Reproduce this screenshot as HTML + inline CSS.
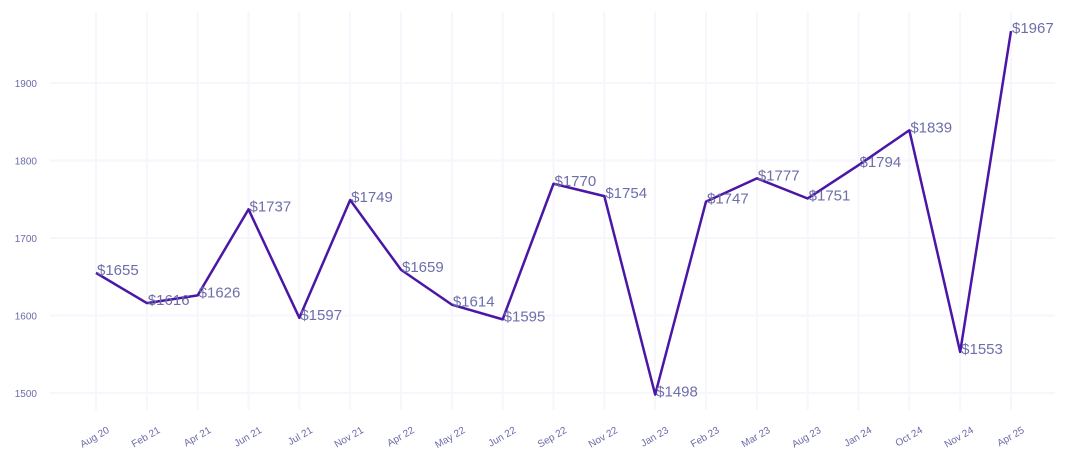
<!DOCTYPE html>
<html><head><meta charset="utf-8"><style>
html,body{margin:0;padding:0;background:#fff;}
svg{display:block;font-family:"Liberation Sans",Arial,sans-serif;}
</style></head><body>
<svg id="chart" width="1070" height="465" viewBox="0 0 1070 465">
<g id="grid"></g>
<g id="yaxis"></g>
<g id="xaxis"></g>
<g id="series"></g>
</svg>
<script>
const categories=["Aug 20","Feb 21","Apr 21","Jun 21","Jul 21","Nov 21","Apr 22","May 22","Jun 22","Sep 22","Nov 22","Jan 23","Feb 23","Mar 23","Aug 23","Jan 24","Oct 24","Nov 24","Apr 25"];
const values=[1655,1616,1626,1737,1597,1749,1659,1614,1595,1770,1754,1498,1747,1777,1751,1794,1839,1553,1967];
const yTicks=[1500,1600,1700,1800,1900];
const NS="http://www.w3.org/2000/svg";
const x0=96,x1=1011,yv0=1500,yp0=393,yv1=1900,yp1=83;
function xs(i){return x0+(x1-x0)*i/(categories.length-1);}
function ys(v){return yp0+(v-yv0)*(yp1-yp0)/(yv1-yv0);}
function mk(t,a,p){const e=document.createElementNS(NS,t);for(const k in a)e.setAttribute(k,a[k]);p.appendChild(e);return e;}
const grid=document.getElementById('grid'),ya=document.getElementById('yaxis'),xa=document.getElementById('xaxis'),se=document.getElementById('series');
yTicks.forEach(v=>{
 const l=mk('line',{x1:50,x2:1055,y1:ys(v),y2:ys(v),stroke:'#f6f6fc','stroke-width':2},grid);
 
 
 const t=mk('text',{x:37,y:ys(v)+4,'text-anchor':'end','font-size':10,fill:'#6b6ba8'},ya);
 t.textContent=v;
 
 
});
categories.forEach((c,i)=>{
 const l=mk('line',{x1:xs(i),x2:xs(i),y1:12,y2:410,stroke:'#f6f6fc','stroke-width':2},grid);
 
 
 const t=mk('text',{x:xs(i)+14,y:432,'text-anchor':'end','font-size':10,fill:'#6b6ba8',transform:`rotate(-30 ${xs(i)+14} 432)`},xa);
 t.textContent=c;
 
 
});
const d=values.map((v,i)=>(i?'L':'M')+xs(i)+','+ys(v)).join(' ');
const p=mk('path',{d:d,fill:'none',stroke:'#4a16a6','stroke-width':2.5,'stroke-linejoin':'round'},se);


values.forEach((v,i)=>{
 const t=mk('text',{x:xs(i)+1,y:ys(v)+2,'font-size':15,fill:'#6e6eaa'},se);
 t.textContent='$'+v;
 
 
});
</script>
</body></html>
